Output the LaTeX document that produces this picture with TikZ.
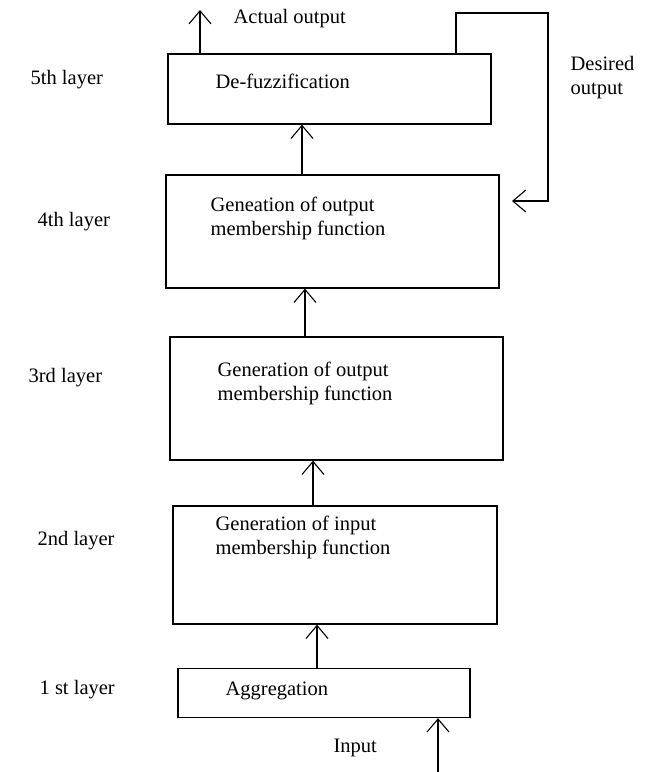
\documentclass[tikz,border=0pt]{standalone}
\usepackage{fontspec}
\setmainfont{Liberation Serif}
\usetikzlibrary{arrows.meta}
\begin{document}
\begin{tikzpicture}[x=1pt,y=-1pt,
  every path/.style={line width=1.3pt},
  blk/.style={draw,line width=1.3pt,rectangle,inner sep=0pt},
  txt/.style={anchor=west,inner sep=0pt,font=\fontsize{20.5}{24}\selectfont,align=left},
  arr/.style={line width=1.3pt,-{Straight Barb[length=13pt,width=22pt,line width=1.1pt]}}]
\useasboundingbox (0,0) rectangle (648,772);
% boxes
\node[blk,minimum width=323pt,minimum height=70pt] (b5) at (329.5,89) {};
\node[blk,minimum width=333pt,minimum height=113pt] (b4) at (332.5,231.5) {};
\node[blk,minimum width=333pt,minimum height=123pt] (b3) at (336.5,398.5) {};
\node[blk,minimum width=324pt,minimum height=118pt] (b2) at (335,565) {};
\node[blk,minimum width=292pt,minimum height=49pt] (b1) at (324,693) {};
% box texts
\node[txt] (t5) at (215,81) {De-fuzzification};
\node[txt,anchor=north west] (t4) at (210,196) {Geneation of output\\membership function};
\node[txt,anchor=north west] (t3) at (217,361) {Generation of output\\membership function};
\node[txt,anchor=north west] (t2) at (215,515) {Generation of input\\membership function};
\node[txt] (t1) at (225,691) {Aggregation};
% layer labels
\node[txt] (l5) at (30,80) {5th layer};
\node[txt] (l4) at (37,222) {4th layer};
\node[txt] (l3) at (28,378) {3rd layer};
\node[txt] (l2) at (37,541) {2nd layer};
\node[txt] (l1) at (39,690) {1 st layer};
% other labels
\node[txt] (ao) at (233,19) {Actual output};
\node[txt,anchor=north west] (do) at (570,56) {Desired\\output};
\node[txt] (in) at (333,748) {Input};
% connectors
\draw[arr] (b4.north -| 302,0) -- (b5.south -| 302,0);
\draw[arr] (b3.north -| 305,0) -- (b4.south -| 305,0);
\draw[arr] (b2.north -| 313,0) -- (b3.south -| 313,0);
\draw[arr] (b1.north -| 317,0) -- (b2.south -| 317,0);
\coordinate (inb) at (438,772);
\draw[arr] (inb) -- (b1.south -| inb);
\coordinate (aot) at (200,10);
\draw[arr] (b5.north -| aot) -- (aot);
\coordinate (fb1) at (456,13);
\coordinate (fb2) at (548,13);
\coordinate (fb3) at (548,201);
\coordinate (fbe) at (512,201);
\draw[arr] (b5.north -| fb1) -- (fb1) -- (fb2) -- (fb3) -- (fbe);
\end{tikzpicture}
\end{document}
